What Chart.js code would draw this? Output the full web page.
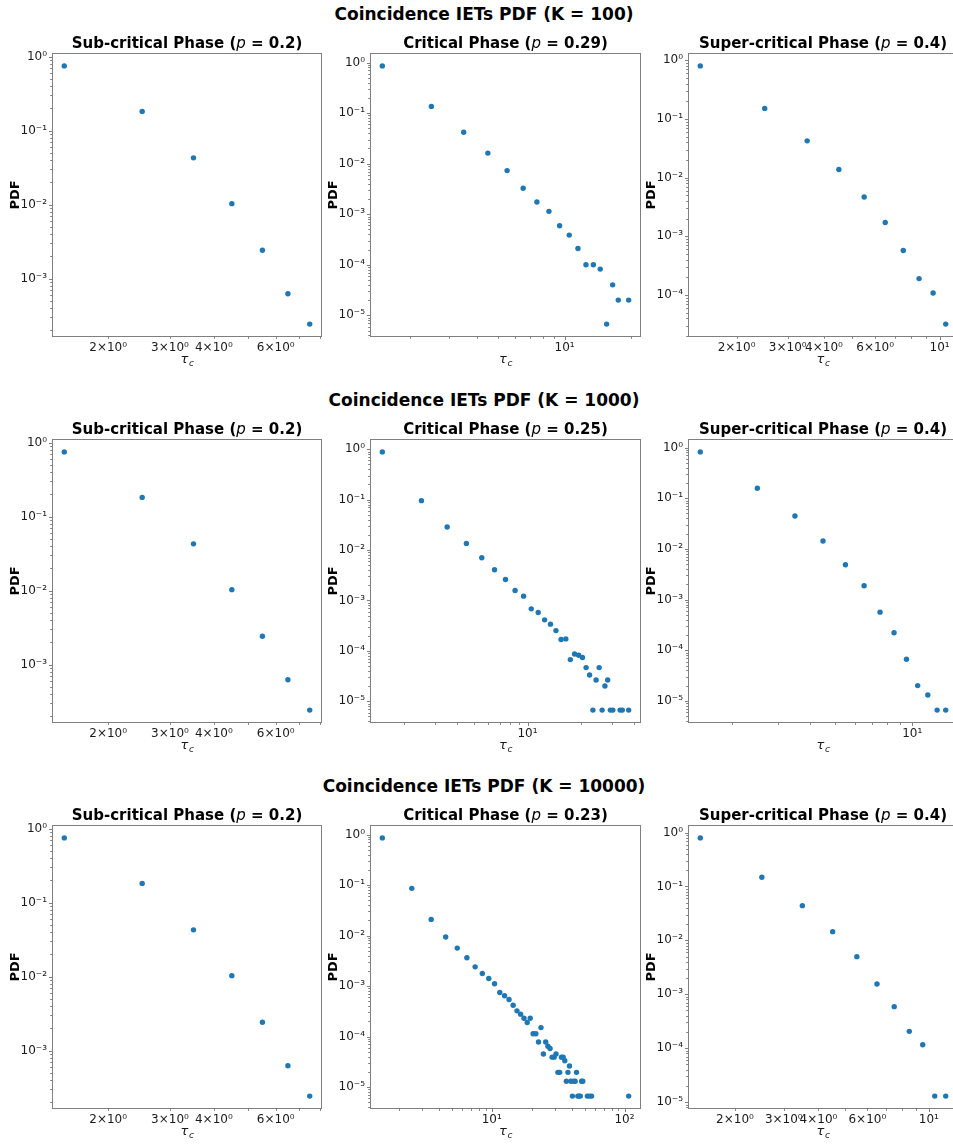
<!DOCTYPE html>
<html>
<head>
<meta charset="utf-8">
<script src="https://cdn.jsdelivr.net/npm/chart.js@4.4.1/dist/chart.umd.min.js"></script>
<style>
  html, body { margin: 0; padding: 0; background: #fff; overflow: hidden; }
  body { width: 953px; height: 1144px; position: relative; }
  canvas { position: absolute; }
  .sup { position: absolute; left: 0; width: 968px; text-align: center;
         font-family: "DejaVu Sans", sans-serif; font-weight: bold; font-size: 17px; color: #000; line-height: 20px; }
</style>
</head>
<body>
<script>
// ---------------- data ----------------
const suptitles = ["Coincidence IETs PDF (K = 100)", "Coincidence IETs PDF (K = 1000)", "Coincidence IETs PDF (K = 10000)"];
const phaseNames = ["Sub-critical Phase", "Critical Phase", "Super-critical Phase"];
const pValues = [["0.2", "0.29", "0.4"], ["0.2", "0.25", "0.4"], ["0.2", "0.23", "0.4"]];

// K = 100
const tauSub100 = [1.5, 2.5, 3.5, 4.5, 5.5, 6.5, 7.5];
const pdfSub100 = [0.747, 0.1815, 0.0428, 0.0103, 0.00242, 0.000625, 0.000243];
const tauCrit100 = [1.5, 2.5, 3.5, 4.5, 5.5, 6.5, 7.5, 8.5, 9.5, 10.5, 11.5, 12.5, 13.5, 14.5, 15.5, 16.5, 17.5, 19.5];
const pdfCrit100 = [0.86, 0.136, 0.042, 0.0162, 0.0073, 0.00326, 0.00175, 0.00114, 0.00059, 0.000386, 0.00021, 0.0001, 0.0001, 0.000082, 0.0000067, 0.00004, 0.00002, 0.00002];
const tauSuper100 = [1.5, 2.5, 3.5, 4.5, 5.5, 6.5, 7.5, 8.5, 9.5, 10.5];
const pdfSuper100 = [0.80, 0.151, 0.0423, 0.0137, 0.00467, 0.00172, 0.000573, 0.00019, 0.000108, 0.0000319];

// K = 1000
const tauSub1000 = [1.5, 2.5, 3.5, 4.5, 5.5, 6.5, 7.5];
const pdfSub1000 = [0.747, 0.1815, 0.0428, 0.0103, 0.00242, 0.000625, 0.000243];
const tauCrit1000 = [1.5, 2.5, 3.5, 4.5, 5.5, 6.5, 7.5, 8.5, 9.5, 10.5, 11.5, 12.5, 13.5, 14.5, 15.5, 16.5, 17.5, 18.5, 19.5, 20.5, 21.5, 22.5, 23.5, 24.5, 25.5, 26.5, 27.5, 28.5, 29.5, 30.5, 33.5, 34.5, 37.5];
const pdfCrit1000 = [0.885, 0.0955, 0.0286, 0.01356, 0.00704, 0.00406, 0.00261, 0.00158, 0.00122, 0.000683, 0.000578, 0.000413, 0.000339, 0.000253, 0.000168, 0.000173, 0.0000673, 0.0000871, 0.000082, 0.0000738, 0.0000467, 0.0000333, 0.0000067, 0.0000265, 0.0000467, 0.0000067, 0.0000202, 0.0000265, 0.0000067, 0.0000067, 0.0000067, 0.0000067, 0.0000067];
const tauSuper1000 = [1.5, 2.5, 3.5, 4.5, 5.5, 6.5, 7.5, 8.5, 9.5, 10.5, 11.5, 12.5, 13.5];
const pdfSuper1000 = [0.821, 0.157, 0.0446, 0.01429, 0.00487, 0.001875, 0.000565, 0.000221, 0.0000666, 0.0000201, 0.0000131, 0.0000066, 0.0000066];

// K = 10000
const tauSub10000 = [1.5, 2.5, 3.5, 4.5, 5.5, 6.5, 7.5];
const pdfSub10000 = [0.747, 0.1815, 0.0428, 0.0103, 0.00242, 0.000625, 0.000243];
const tauCrit10000 = [1.5, 2.5, 3.5, 4.5, 5.5, 6.5, 7.5, 8.5, 9.5, 10.5, 11.5, 12.5, 13.5, 14.5, 15.5, 16.5, 17.5, 18.5, 19.5, 20.5, 21.5, 22.5, 23.5, 24.5, 25.5, 26.5, 27.5, 28.5, 29.5, 30.5, 31.5, 32.5, 33.5, 34.5, 35.5, 36.5, 37.5, 38.5, 39.5, 40.5, 41.5, 42.5, 43.5, 44.5, 45.5, 46.5, 47.5, 48.5, 52.5, 54.5, 56.5, 107.5];
const pdfCrit10000 = [0.859, 0.086, 0.0209, 0.00933, 0.00564, 0.00363, 0.0024, 0.00177, 0.00141, 0.00111, 0.000745, 0.00064, 0.00054, 0.000417, 0.000322, 0.000277, 0.00023, 0.000189, 0.00023, 0.000113, 0.000113, 0.000078, 0.00015, 0.000045, 0.000078, 0.000064, 0.000058, 0.000039, 0.000039, 0.000045, 0.0000195, 0.0000195, 0.000039, 0.000039, 0.000033, 0.000013, 0.0000195, 0.000026, 0.000013, 0.0000066, 0.000013, 0.000013, 0.0000195, 0.0000066, 0.0000066, 0.0000066, 0.000013, 0.000013, 0.0000066, 0.0000066, 0.0000066, 0.0000066];
const tauSuper10000 = [1.5, 2.5, 3.5, 4.5, 5.5, 6.5, 7.5, 8.5, 9.5, 10.5, 11.5];
const pdfSuper10000 = [0.796, 0.148, 0.0441, 0.01452, 0.00499, 0.00155, 0.000589, 0.000205, 0.000116, 0.0000129, 0.0000129];

// labelled x ticks per panel (values where a tick label is printed)
const xLabelsSub = [2, 3, 4, 6];
const xLabelsCrit = [10, 100];
const xLabelsSuper100 = [2, 3, 4, 6, 10];
const xLabelsSuper1000 = [10];
const xLabelsSuper10000 = [2, 3, 4, 6, 10];

const panels = [
  [[tauSub100, pdfSub100, xLabelsSub], [tauCrit100, pdfCrit100, xLabelsCrit], [tauSuper100, pdfSuper100, xLabelsSuper100]],
  [[tauSub1000, pdfSub1000, xLabelsSub], [tauCrit1000, pdfCrit1000, xLabelsCrit], [tauSuper1000, pdfSuper1000, xLabelsSuper1000]],
  [[tauSub10000, pdfSub10000, xLabelsSub], [tauCrit10000, pdfCrit10000, xLabelsCrit], [tauSuper10000, pdfSuper10000, xLabelsSuper10000]]
];

// ---------------- layout ----------------
const colLeft = [52, 370, 688];
const colWidth = [270, 271, 270];
const rowTop = [53, 439, 825];
const plotH = 284;
const PADL = 52, PADT = 34, PADR = 14, PADB = 34;
const FONT = '"DejaVu Sans", sans-serif';
const FRAME = '#7f7f7f';

Chart.defaults.font.family = FONT;
Chart.defaults.color = '#1a1a1a';

const SUP = {'0':'⁰','1':'¹','2':'²','3':'³','4':'⁴','5':'⁵','6':'⁶','7':'⁷','8':'⁸','9':'⁹','-':'⁻'};
function sup(n) { return String(n).split('').map(c => SUP[c]).join(''); }
function isDecade(v) { const l = Math.log10(v); return Math.abs(l - Math.round(l)) < 1e-9; }
function decadeLabel(v) { return '10' + sup(Math.round(Math.log10(v))); }
function tickLabel(v) {
  if (isDecade(v)) return decadeLabel(v);
  const e = Math.floor(Math.log10(v) + 1e-9);
  const m = Math.round(v / Math.pow(10, e));
  return m + '×10' + sup(e);
}
function logLimits(vals) {
  const l = vals.map(Math.log10);
  const lo = Math.min(...l), hi = Math.max(...l);
  const m = 0.05 * (hi - lo);
  return [Math.pow(10, lo - m), Math.pow(10, hi + m)];
}
function allLogTicks(min, max) {
  const out = [];
  for (let e = Math.floor(Math.log10(min)) - 1; e <= Math.ceil(Math.log10(max)); e++) {
    for (let m = 1; m <= 9; m++) {
      const v = m * Math.pow(10, e);
      if (v >= min * (1 - 1e-9) && v <= max * (1 + 1e-9)) out.push(v);
    }
  }
  return out;
}

const decorPlugin = {
  id: 'decor',
  afterDraw(chart) {
    const ctx = chart.ctx, a = chart.chartArea, o = chart.options.plugins.decor;
    ctx.save();
    // frame
    ctx.strokeStyle = FRAME; ctx.lineWidth = 1;
    ctx.strokeRect(Math.round(a.left) + 0.5, Math.round(a.top) + 0.5, Math.round(a.right - a.left) - 1, Math.round(a.bottom - a.top) - 1);
    // tick marks
    ctx.beginPath();
    const xs = chart.scales.x, ys = chart.scales.y;
    xs.ticks.forEach(t => {
      const px = Math.round(xs.getPixelForValue(t.value)) + 0.5;
      const len = isDecade(t.value) ? 3 : 1.8;
      ctx.moveTo(px, a.bottom); ctx.lineTo(px, a.bottom + len);
    });
    ys.ticks.forEach(t => {
      const py = Math.round(ys.getPixelForValue(t.value)) + 0.5;
      const len = isDecade(t.value) ? 3 : 1.8;
      ctx.moveTo(a.left, py); ctx.lineTo(a.left - len, py);
    });
    ctx.stroke();
    // title
    ctx.fillStyle = '#000';
    ctx.textBaseline = 'alphabetic';
    const segs = [
      {t: o.name + ' (', f: 'bold 15px ' + FONT},
      {t: 'p', f: 'italic 15px ' + FONT},
      {t: ' = ' + o.p + ')', f: 'bold 15px ' + FONT}
    ];
    let w = 0;
    segs.forEach(s => { ctx.font = s.f; s.w = ctx.measureText(s.t).width; w += s.w; });
    let x = (a.left + a.right) / 2 - w / 2;
    ctx.textAlign = 'left';
    segs.forEach(s => { ctx.font = s.f; ctx.fillText(s.t, x, a.top - 5); x += s.w; });
    // y label
    ctx.save();
    ctx.translate(a.left - 36, (a.top + a.bottom) / 2);
    ctx.rotate(-Math.PI / 2);
    ctx.font = 'bold 13px ' + FONT;
    ctx.textAlign = 'center'; ctx.textBaseline = 'middle';
    ctx.fillText('PDF', 0, 0);
    ctx.restore();
    // x label tau_c
    ctx.fillStyle = '#1a1a1a';
    ctx.font = 'italic 13px ' + FONT;
    const tw = ctx.measureText('τ').width;
    ctx.font = 'italic 9px ' + FONT;
    const cw = ctx.measureText('c').width;
    const cx = (a.left + a.right) / 2 - (tw + cw) / 2;
    const by = a.bottom + 26;
    ctx.textAlign = 'left';
    ctx.font = 'italic 13px ' + FONT;
    ctx.fillText('τ', cx, by);
    ctx.font = 'italic 9px ' + FONT;
    ctx.fillText('c', cx + tw + 0.5, by + 3);
    ctx.restore();
  }
};

// suptitles
rowTop.forEach((t, r) => {
  const d = document.createElement('div');
  d.className = 'sup';
  d.style.top = (t - 49) + 'px';
  d.textContent = suptitles[r];
  document.body.appendChild(d);
});

panels.forEach((row, r) => {
  row.forEach((pn, c) => {
    const [xsVals, ysVals, xLab] = pn;
    const cv = document.createElement('canvas');
    const W = PADL + colWidth[c] + PADR, H = PADT + plotH + PADB;
    cv.width = W; cv.height = H;
    cv.style.left = (colLeft[c] - PADL) + 'px';
    cv.style.top = (rowTop[r] - PADT) + 'px';
    cv.style.width = W + 'px'; cv.style.height = H + 'px';
    document.body.appendChild(cv);
    const [xmin, xmax] = logLimits(xsVals);
    const [ymin, ymax] = logLimits(ysVals);
    new Chart(cv, {
      type: 'scatter',
      data: { datasets: [{ data: xsVals.map((x, i) => ({x: x, y: ysVals[i]})),
        backgroundColor: '#1f77b4', borderColor: '#1f77b4', borderWidth: 0,
        pointRadius: 2.7, pointHoverRadius: 2.7 }] },
      options: {
        responsive: false, animation: false, devicePixelRatio: 1,
        layout: { padding: { left: 0, top: PADT, right: PADR, bottom: 0 } },
        plugins: { legend: { display: false }, tooltip: { enabled: false }, title: { display: false },
          decor: { name: phaseNames[c], p: pValues[r][c] } },
        scales: {
          x: { type: 'logarithmic', min: xmin, max: xmax,
            grid: { display: false, drawTicks: false }, border: { display: false },
            ticks: { autoSkip: false, maxRotation: 0, minRotation: 0, padding: 4, font: { size: 12 },
              callback: (v) => xLab.some(l => Math.abs(l - v) / l < 1e-9) ? tickLabel(v) : '' },
            afterBuildTicks: (s) => { s.ticks = allLogTicks(xmin, xmax).map(v => ({value: v})); },
            afterFit: (s) => { s.height = PADB; s.paddingLeft = 0; s.paddingRight = 0; } },
          y: { type: 'logarithmic', min: ymin, max: ymax,
            grid: { display: false, drawTicks: false }, border: { display: false },
            ticks: { autoSkip: false, padding: 5, font: { size: 12 },
              callback: (v) => isDecade(v) ? decadeLabel(v) : '' },
            afterBuildTicks: (s) => { s.ticks = allLogTicks(ymin, ymax).map(v => ({value: v})); },
            afterFit: (s) => { s.width = PADL; s.paddingTop = 0; s.paddingBottom = 0; } }
        }
      },
      plugins: [decorPlugin]
    });
  });
});
</script>
</body>
</html>
